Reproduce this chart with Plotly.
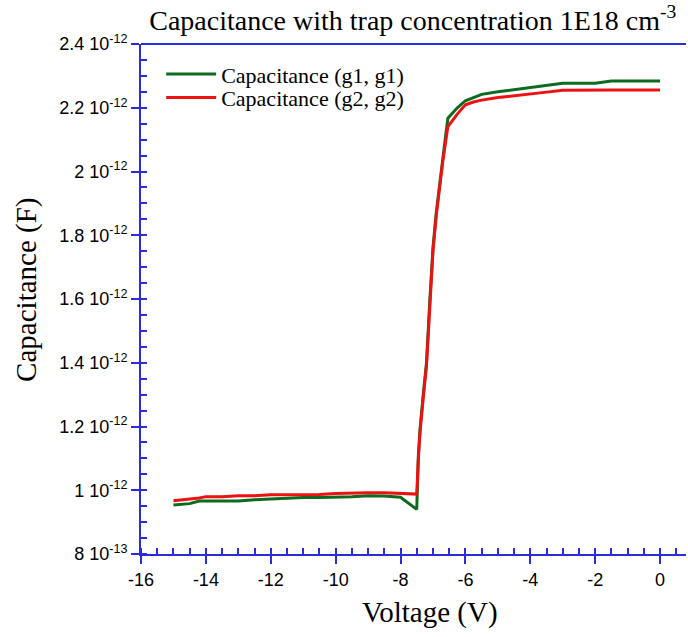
import plotly.graph_objects as go

# Gate voltage sweep (V)
voltage = [-15.0, -14.5, -14.2, -14.0, -13.5, -13.0, -12.5, -12.0, -11.5, -11.0,
           -10.5, -10.0, -9.5, -9.0, -8.5, -8.0, -7.75, -7.5, -7.45, -7.4,
           -7.3, -7.2, -7.1, -7.0, -6.9, -6.8, -6.7, -6.6, -6.54, -6.25,
           -6.0, -5.75, -5.5, -5.0, -4.5, -4.0, -3.5, -3.0, -2.5, -2.0,
           -1.5, -1.0, -0.5, 0.0]

# Capacitance (g1, g1) in pF
cap_g1_pf = [0.954, 0.958, 0.966, 0.966, 0.966, 0.966, 0.970, 0.972, 0.976, 0.977,
             0.977, 0.978, 0.980, 0.983, 0.982, 0.978, 0.960, 0.940, 1.11, 1.19,
             1.30, 1.40, 1.59, 1.76, 1.87, 1.96, 2.05, 2.12, 2.167, 2.200,
             2.222, 2.233, 2.242, 2.250, 2.257, 2.263, 2.271, 2.277, 2.277, 2.277,
             2.284, 2.284, 2.284, 2.284]

# Capacitance (g2, g2) in pF
cap_g2_pf = [0.967, 0.972, 0.976, 0.980, 0.980, 0.983, 0.983, 0.986, 0.986, 0.987,
             0.987, 0.990, 0.992, 0.992, 0.992, 0.990, 0.988, 0.988, 1.10, 1.18,
             1.29, 1.39, 1.57, 1.75, 1.86, 1.95, 2.03, 2.10, 2.141, 2.180,
             2.209, 2.218, 2.224, 2.232, 2.237, 2.244, 2.249, 2.255, 2.256, 2.256,
             2.256, 2.256, 2.256, 2.256]

y_tick_vals_pf = [0.8, 1.0, 1.2, 1.4, 1.6, 1.8, 2.0, 2.2, 2.4]
y_tick_text = ["8 10<sup>-13</sup>", "1 10<sup>-12</sup>", "1.2 10<sup>-12</sup>",
               "1.4 10<sup>-12</sup>", "1.6 10<sup>-12</sup>", "1.8 10<sup>-12</sup>",
               "2 10<sup>-12</sup>", "2.2 10<sup>-12</sup>", "2.4 10<sup>-12</sup>"]
x_tick_vals = [-16, -14, -12, -10, -8, -6, -4, -2, 0]
x_tick_text = ["-16", "-14", "-12", "-10", "-8", "-6", "-4", "-2", "0"]

PF = 1e-12
AXIS_BLUE = "#2b2be0"
SERIF = "Liberation Serif, Times New Roman, serif"
SANS = "Liberation Sans, Arial, sans-serif"
LEGEND_FONT = dict(family=SERIF, size=22, color="black")

fig = go.Figure()
fig.add_trace(go.Scatter(
    x=voltage, y=[v * PF for v in cap_g1_pf], mode="lines", legend="legend",
    name="Capacitance (g1, g1)", line=dict(color="#0c6b1e", width=3)))
fig.add_trace(go.Scatter(
    x=voltage, y=[v * PF for v in cap_g2_pf], mode="lines", legend="legend2",
    name="Capacitance (g2, g2)", line=dict(color="#ee1111", width=3)))

fig.update_layout(
    width=688, height=637,
    margin=dict(l=141, r=2, t=44, b=83),
    paper_bgcolor="white", plot_bgcolor="white",
    title=dict(text="Capacitance with trap concentration 1E18 cm<sup>-3</sup>",
               x=0.60, xanchor="center", y=0.968, yanchor="middle",
               font=dict(family=SERIF, size=28, color="black")),
    legend=dict(x=0.037, y=0.982, xanchor="left", yanchor="top",
                bgcolor="rgba(0,0,0,0)", itemwidth=50, font=LEGEND_FONT),
    legend2=dict(x=0.037, y=0.936, xanchor="left", yanchor="top",
                 bgcolor="rgba(0,0,0,0)", itemwidth=50, font=LEGEND_FONT),
    showlegend=True,
    shapes=[dict(type="line", xref="paper", yref="paper", x0=0, x1=1, y0=1, y1=1,
                 line=dict(color=AXIS_BLUE, width=2))],
    annotations=[
        dict(text="Voltage (V)", xref="paper", yref="paper", x=0.53, y=-0.115,
             xanchor="center", yanchor="middle", showarrow=False,
             font=dict(family=SERIF, size=29, color="black")),
        dict(text="Capacitance (F)", xref="paper", yref="paper", x=-0.21, y=0.517,
             xanchor="center", yanchor="middle", showarrow=False, textangle=-90,
             font=dict(family=SERIF, size=29, color="black")),
    ],
)

fig.update_xaxes(
    range=[-16, 0.8], tickvals=x_tick_vals, ticktext=x_tick_text,
    showgrid=False, zeroline=False,
    showline=True, linecolor=AXIS_BLUE, linewidth=2,
    ticks="outside", ticklen=8, tickwidth=2, tickcolor=AXIS_BLUE,
    minor=dict(dtick=0.5, ticks="inside", ticklen=6, tickwidth=2, tickcolor=AXIS_BLUE),
    tickfont=dict(family=SANS, size=18, color="black"),
)
fig.update_yaxes(
    range=[0.8 * PF, 2.4 * PF],
    tickvals=[v * PF for v in y_tick_vals_pf], ticktext=y_tick_text,
    showgrid=False, zeroline=False,
    showline=True, linecolor=AXIS_BLUE, linewidth=2,
    ticks="outside", ticklen=8, tickwidth=2, tickcolor=AXIS_BLUE,
    minor=dict(dtick=0.05 * PF, tick0=0.8 * PF, ticks="inside", ticklen=6, tickwidth=2, tickcolor=AXIS_BLUE),
    tickfont=dict(family=SANS, size=18, color="black"),
)

fig.write_html("out.html")
